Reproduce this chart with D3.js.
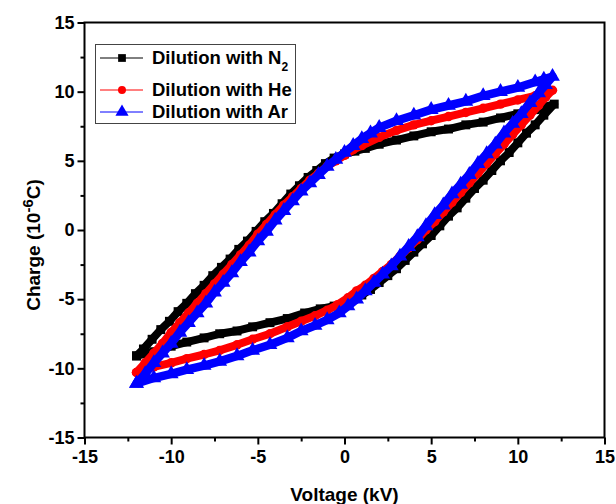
<!DOCTYPE html>
<html><head><meta charset="utf-8">
<script src="https://cdn.jsdelivr.net/npm/d3@7"></script>
<style>body{margin:0;background:#fff}svg{display:block}</style>
</head><body>
<svg id="chart" width="616" height="504"></svg>
<script>
// ---- data (voltage kV, charge 1e-6 C) ----
const seriesNames = ["Dilution with N", "Dilution with He", "Dilution with Ar"];
const seriesSubs = ["2", "", ""];
const seriesColors = ["#000000", "#ff0000", "#0000ff"];
const xTicks = [-15, -10, -5, 0, 5, 10, 15];
const yTicks = [-15, -10, -5, 0, 5, 10, 15];
const minorTicks = [-12.5, -7.5, -2.5, 2.5, 7.5, 12.5];

const n2Loop = [
[-12.0,-9.1],[-11.6,-8.6],[-11.1,-7.9],[-10.6,-7.2],[-10.1,-6.6],[-9.6,-5.9],[-9.1,-5.3],[-8.6,-4.6],[-8.1,-4.0],[-7.6,-3.3],[-7.1,-2.7],[-6.6,-2.1],[-6.1,-1.4],[-5.6,-0.8],[-5.1,-0.1],[-4.6,0.6],[-4.1,1.2],[-3.6,1.9],[-3.1,2.6],[-2.6,3.2],[-2.1,3.8],[-1.6,4.3],[-1.1,4.8],[-0.6,5.2],[0.0,5.5],[0.6,5.7],[1.2,5.9],[2.0,6.2],[3.0,6.5],[4.0,6.8],[5.0,7.1],[6.0,7.3],[7.0,7.6],[8.0,7.8],[9.0,8.1],[10.0,8.4],[11.0,8.7],[11.6,8.9],[12.1,9.1],
[11.5,8.3],[11.0,7.6],[10.5,7.0],[10.0,6.3],[9.5,5.6],[9.0,5.0],[8.5,4.3],[8.0,3.6],[7.5,3.0],[7.0,2.3],[6.5,1.6],[6.0,1.0],[5.5,0.3],[5.0,-0.4],[4.5,-1.0],[4.0,-1.6],[3.5,-2.2],[3.0,-2.8],[2.5,-3.3],[2.0,-3.8],[1.5,-4.3],[1.0,-4.7],[0.5,-5.0],[0.0,-5.3],[-0.6,-5.5],[-1.4,-5.7],[-2.3,-6.0],[-3.3,-6.4],[-4.3,-6.7],[-5.3,-7.0],[-6.2,-7.3],[-7.2,-7.5],[-8.1,-7.8],[-9.1,-8.1],[-10.0,-8.4],[-11.0,-8.8],[-12.0,-9.1]];

const heLoop = [
[-12.0,-10.3],[-11.5,-9.6],[-11.0,-8.9],[-10.5,-8.2],[-10.0,-7.4],[-9.5,-6.7],[-9.0,-6.0],[-8.5,-5.3],[-8.0,-4.6],[-7.5,-3.9],[-7.0,-3.2],[-6.5,-2.5],[-6.0,-1.8],[-5.5,-1.1],[-5.0,-0.3],[-4.5,0.4],[-4.0,1.1],[-3.5,1.8],[-3.0,2.4],[-2.5,3.0],[-2.0,3.6],[-1.5,4.1],[-1.0,4.6],[-0.5,5.0],[0.0,5.4],[0.5,5.8],[1.0,6.1],[2.0,6.7],[3.0,7.2],[4.0,7.6],[5.0,7.9],[6.0,8.2],[7.0,8.5],[8.0,8.8],[9.0,9.1],[10.0,9.4],[11.0,9.7],[11.5,9.9],[12.0,10.1],
[11.6,9.6],[11.2,9.0],[10.7,8.3],[10.2,7.6],[9.7,6.9],[9.2,6.2],[8.7,5.5],[8.2,4.8],[7.7,4.1],[7.2,3.4],[6.7,2.7],[6.2,2.0],[5.7,1.3],[5.2,0.6],[4.7,0.0],[4.2,-0.7],[3.7,-1.3],[3.2,-1.9],[2.7,-2.5],[2.2,-3.0],[1.7,-3.5],[1.2,-4.0],[0.7,-4.4],[0.2,-4.9],[-0.4,-5.4],[-1.0,-5.8],[-1.7,-6.2],[-2.5,-6.6],[-3.3,-7.0],[-4.3,-7.5],[-5.3,-7.9],[-6.2,-8.3],[-7.2,-8.7],[-8.1,-9.0],[-9.1,-9.3],[-10.0,-9.6],[-11.0,-9.9],[-12.0,-10.3]];

const arLoop = [
[-12.0,-11.1],[-11.5,-10.4],[-11.0,-9.6],[-10.5,-8.9],[-10.0,-8.2],[-9.5,-7.4],[-9.0,-6.7],[-8.5,-6.0],[-8.0,-5.3],[-7.5,-4.5],[-7.0,-3.8],[-6.5,-3.1],[-6.0,-2.3],[-5.5,-1.6],[-5.0,-0.8],[-4.5,-0.1],[-4.0,0.7],[-3.5,1.4],[-3.0,2.1],[-2.5,2.8],[-2.0,3.4],[-1.5,4.0],[-1.0,4.6],[-0.5,5.1],[0.0,5.6],[0.5,6.1],[1.0,6.6],[1.5,7.0],[2.0,7.4],[3.0,7.9],[4.0,8.3],[5.0,8.7],[6.0,9.0],[7.0,9.3],[8.0,9.7],[9.0,10.0],[10.0,10.3],[11.0,10.7],[11.5,10.9],[12.0,11.1],
[11.6,10.5],[11.2,9.9],[10.7,9.2],[10.2,8.4],[9.7,7.7],[9.2,7.0],[8.7,6.2],[8.2,5.5],[7.7,4.8],[7.2,4.0],[6.7,3.3],[6.2,2.6],[5.7,1.8],[5.2,1.1],[4.7,0.3],[4.2,-0.5],[3.7,-1.2],[3.2,-1.9],[2.7,-2.6],[2.2,-3.2],[1.7,-3.8],[1.2,-4.4],[0.7,-5.0],[0.2,-5.5],[-0.3,-6.0],[-1.0,-6.5],[-1.7,-6.9],[-2.5,-7.3],[-3.3,-7.8],[-4.3,-8.3],[-5.3,-8.7],[-6.2,-9.1],[-7.2,-9.5],[-8.1,-9.8],[-9.1,-10.1],[-10.0,-10.4],[-11.0,-10.7],[-12.0,-11.1]];

const loops = [n2Loop, heLoop, arLoop];
const symbols = [d3.symbolSquare, d3.symbolCircle, d3.symbolTriangle];
const symbolSizes = [80, 70, 95];

// ---- layout ----
const L = 84.5, R = 604.5, T = 22.5, B = 437.5;
const x = d3.scaleLinear().domain([-15, 15]).range([L, R]);
const y = d3.scaleLinear().domain([-15, 15]).range([B, T]);
const svg = d3.select("#chart");
const FONT = "'Liberation Sans', Arial, sans-serif";

// data
const line = d3.line().x(d => x(d[0])).y(d => y(d[1]));
loops.forEach((data, i) => {
  const g = svg.append("g");
  g.append("path").datum(data).attr("d", line)
    .attr("fill", "none").attr("stroke", seriesColors[i])
    .attr("stroke-width", i === 2 ? 8.5 : 8).attr("stroke-linejoin", "round");
  g.selectAll("path.m").data(data).enter().append("path").attr("class", "m")
    .attr("d", d3.symbol().type(symbols[i]).size(symbolSizes[i]))
    .attr("transform", d => `translate(${x(d[0])},${y(d[1])})`)
    .attr("fill", seriesColors[i]);
});

// axes
const styleAxis = g => {
  g.selectAll(".domain").remove();
  g.selectAll("line").attr("stroke", "#000").attr("stroke-width", 2);
  g.selectAll("text").attr("fill", "#000").attr("font-family", FONT)
    .attr("font-weight", "bold").attr("font-size", 18);
};
const xAxis = svg.append("g").attr("transform", `translate(0,${B})`)
  .call(d3.axisBottom(x).tickValues(xTicks).tickSize(7).tickPadding(6).tickFormat(d => String(d)));
styleAxis(xAxis);
const xMinor = svg.append("g").attr("transform", `translate(0,${B})`)
  .call(d3.axisBottom(x).tickValues(minorTicks).tickSize(4).tickFormat(""));
styleAxis(xMinor);
const yAxis = svg.append("g").attr("transform", `translate(${L},0)`)
  .call(d3.axisLeft(y).tickValues(yTicks).tickSize(7).tickPadding(3).tickFormat(d => String(d)));
styleAxis(yAxis);
const yMinor = svg.append("g").attr("transform", `translate(${L},0)`)
  .call(d3.axisLeft(y).tickValues(minorTicks).tickSize(4).tickFormat(""));
styleAxis(yMinor);

// frame
svg.append("rect").attr("x", L).attr("y", T).attr("width", R - L).attr("height", B - T)
  .attr("fill", "none").attr("stroke", "#000").attr("stroke-width", 2);

// axis titles
svg.append("text").attr("x", (L + R) / 2).attr("y", 501).attr("text-anchor", "middle")
  .attr("font-family", FONT).attr("font-weight", "bold").attr("font-size", 19).text("Voltage (kV)");
const yt = svg.append("text").attr("transform", "translate(40,245) rotate(-90)")
  .attr("text-anchor", "middle").attr("font-family", FONT).attr("font-weight", "bold").attr("font-size", 19);
yt.append("tspan").text("Charge (10");
yt.append("tspan").attr("dy", -7).attr("font-size", 15).text("-6");
yt.append("tspan").attr("dy", 7).text("C)");

// legend
const lg = svg.append("g");
lg.append("rect").attr("x", 95.5).attr("y", 44.5).attr("width", 200).attr("height", 79)
  .attr("fill", "#fff").attr("stroke", "#444").attr("stroke-width", 1);
const rowsY = [58, 90, 112];
seriesNames.forEach((name, i) => {
  lg.append("line").attr("x1", 100).attr("x2", 143).attr("y1", rowsY[i]).attr("y2", rowsY[i])
    .attr("stroke", seriesColors[i]).attr("stroke-width", 1);
  lg.append("path").attr("d", d3.symbol().type(symbols[i]).size(symbolSizes[i] - 20)())
    .attr("transform", `translate(122,${rowsY[i]})`).attr("fill", seriesColors[i]);
  const t = lg.append("text").attr("x", 152).attr("y", rowsY[i] + 6)
    .attr("font-family", FONT).attr("font-weight", "bold").attr("font-size", 18.5).text(name);
  if (seriesSubs[i]) t.append("tspan").attr("dy", 7).attr("font-size", 12).text(seriesSubs[i]);
});
</script>
</body></html>
